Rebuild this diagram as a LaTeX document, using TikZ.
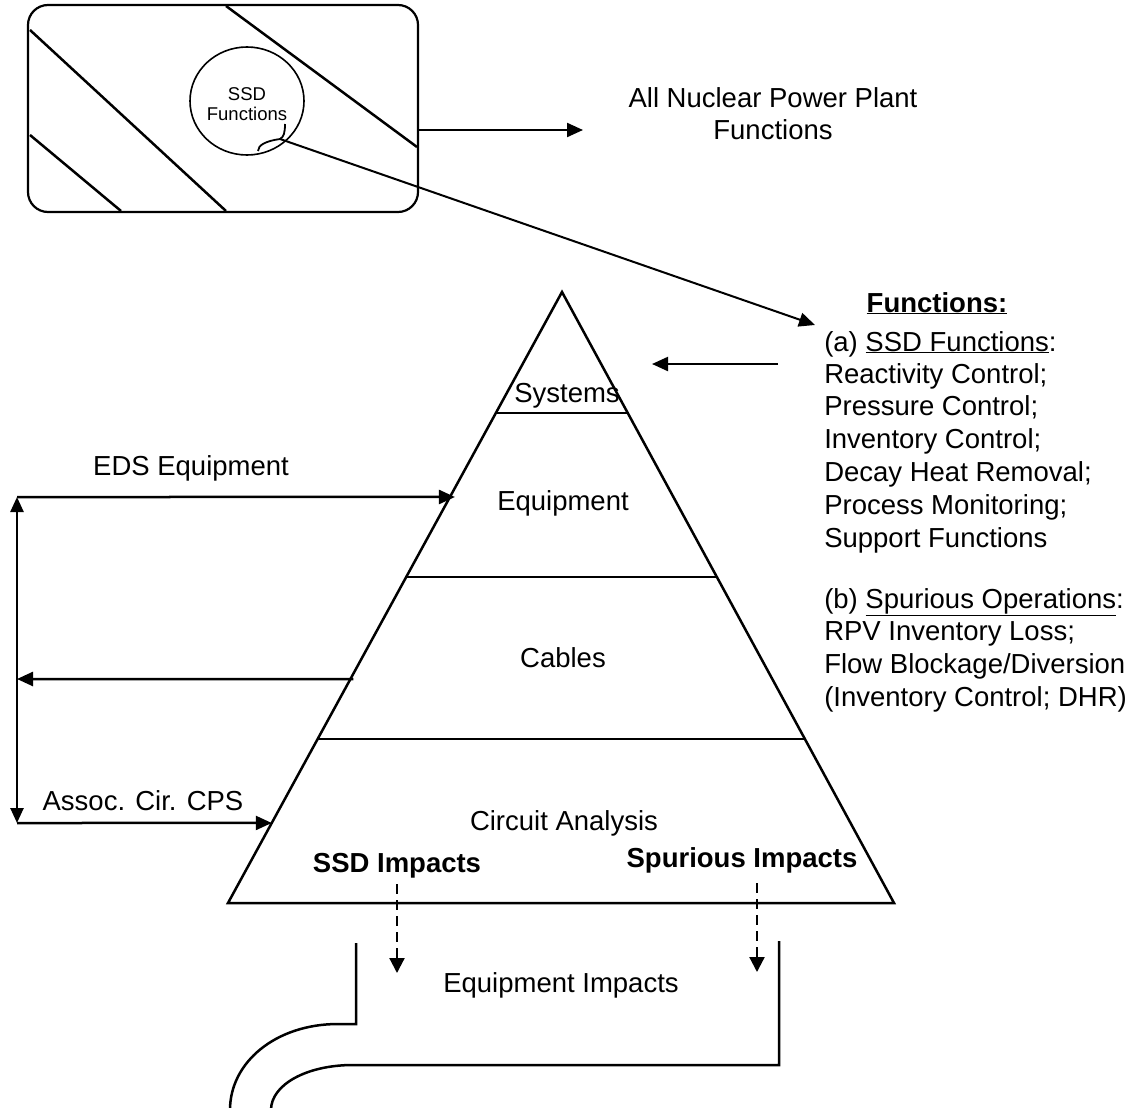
\documentclass[tikz,border=0pt]{standalone}
\usepackage{fontspec}
\setmainfont{Liberation Sans}
\usetikzlibrary{arrows.meta,calc,shapes.geometric}
\begin{document}
\begin{tikzpicture}[x=1pt,y=-1pt,
  line width=2.5pt,
  tip/.style={-{Triangle[length=16pt,width=14pt]}},
  tiptwo/.style={{Triangle[length=15pt,width=13pt]}-{Triangle[length=15pt,width=13pt]}},
  dashtip/.style={-{Triangle[length=15pt,width=15pt]},dash pattern=on 10pt off 6pt,line width=2.2pt},
  txt/.style={font=\fontsize{27.5}{33}\selectfont, inner sep=0pt, anchor=base},
  txtw/.style={font=\fontsize{27.5}{33}\selectfont, inner sep=0pt, anchor=base west},
  btxt/.style={font=\fontsize{27.5}{33}\selectfont\bfseries, inner sep=0pt, anchor=base},
  ]
\useasboundingbox (0,0) rectangle (1139,1107);

% ---- top: plant functions box ----
\node[draw, rounded corners=20pt, line width=2.2pt, minimum width=390pt, minimum height=207pt, inner sep=0pt] (plant) at (223,108.5) {};
\draw (30,30) -- (226,211);
\draw (30,135) -- (121,211);
\draw (226,6) -- (417,147);
\node[draw, ellipse, line width=1.6pt, minimum width=114pt, minimum height=108pt, inner sep=0pt, fill=white] (ssdc) at (247,101) {};
\node[font=\fontsize{18.5}{19.5}\selectfont, align=center, inner sep=0pt] (ssdt) at (247,104) {SSD\\Functions};
\coordinate (hook) at (280,139);
\draw[line width=1.8pt] (285,124) .. controls (285,132) and (284,137) .. (hook)
  .. controls (266,141) and (258,145) .. (258,151);

\node[txt] (allnpp1) at (773,108) {All Nuclear Power Plant};
\node[txt] (allnpp2) at (773,140) {Functions};
\coordinate (plantR) at (plant.east |- 0,130);
\draw[tip, line width=2.2pt] (plantR) -- (583,130);

% ---- functions list ----
\coordinate (funtip) at (815,325);
\draw[tip, line width=2pt] (hook) -- (funtip);
\node[btxt] (fhead) at (937,312) {\underline{Functions:}};
\foreach \n/\y/\t in {
  f1/351/{(a) \underline{SSD Functions}:},
  f2/383/{Reactivity Control;},
  f3/415/{Pressure Control;},
  f4/448/{Inventory Control;},
  f5/481/{Decay Heat Removal;},
  f6/514/{Process Monitoring;},
  f7/547/{Support Functions},
  f8/608/{(b) \underline{Spurious Operations}:},
  f9/640/{RPV Inventory Loss;},
  f10/673/{Flow Blockage/Diversion},
  f11/706/{(Inventory Control; DHR)}}
  \node[txtw] (\n) at (823,\y) {\t};

% ---- pyramid ----
\coordinate (apex) at (562,292);
\coordinate (bl) at (228,903);
\coordinate (br) at (894,903);
\draw[line join=miter] (apex) -- (br) -- (bl) -- cycle;
\draw ($(apex)!0.198!(bl)$) -- ($(apex)!0.198!(br)$);
\draw ($(apex)!0.4664!(bl)$) -- ($(apex)!0.4664!(br)$);
\draw ($(apex)!0.7316!(bl)$) -- ($(apex)!0.7316!(br)$);

\node[txt] (sys) at (567,402) {Systems};
\node[txt] (equ) at (563,510) {Equipment};
\node[txt] (cab) at (563,667) {Cables};
\node[txt] (cir) at (564,830) {Circuit Analysis};
\node[btxt] (ssdi) at (397,872) {SSD Impacts};
\node[btxt] (spui) at (742,867) {Spurious Impacts};

\coordinate (sysin) at (652,364);
\draw[tip, line width=2.2pt] (778,364) -- (sysin);

% ---- left side arrows ----
\coordinate (eA) at ($(apex)!0.3355!(bl) + (5,0)$);
\coordinate (eB) at ($(apex)!0.6334!(bl) + (3,0)$);
\coordinate (eC) at ($(apex)!0.869!(bl)$);
\coordinate (lA) at (17,497);
\coordinate (lB) at (17,679);
\coordinate (lC) at (17,823);
\node[txt] (eds) at (191,475) {EDS Equipment};
\node[txt] (acc) at (143,810) {Assoc. Cir. CPS};
\draw[tip] (lA) -- (eA);
\draw[tip] (eB) -- (lB);
\draw[tip] (lC) -- (eC);
\draw[tiptwo] (lA) -- (lC);

% ---- equipment impacts ----
\coordinate (d1s) at (397,884);
\coordinate (d1e) at (397,973);
\coordinate (d2s) at (757,883);
\coordinate (d2e) at (757,972);
\draw[dashtip] (d1s) -- (d1e);
\draw[dashtip] (d2s) -- (d2e);
\node[txt] (eqi) at (561,992) {Equipment Impacts};

\draw (356,943) -- (356,1024) -- (338,1024)
  .. controls (276,1024) and (230,1062) .. (230,1110);
\draw (779,941) -- (779,1065) -- (353,1065)
  .. controls (306,1065) and (271,1085) .. (271,1110);
\end{tikzpicture}
\end{document}
